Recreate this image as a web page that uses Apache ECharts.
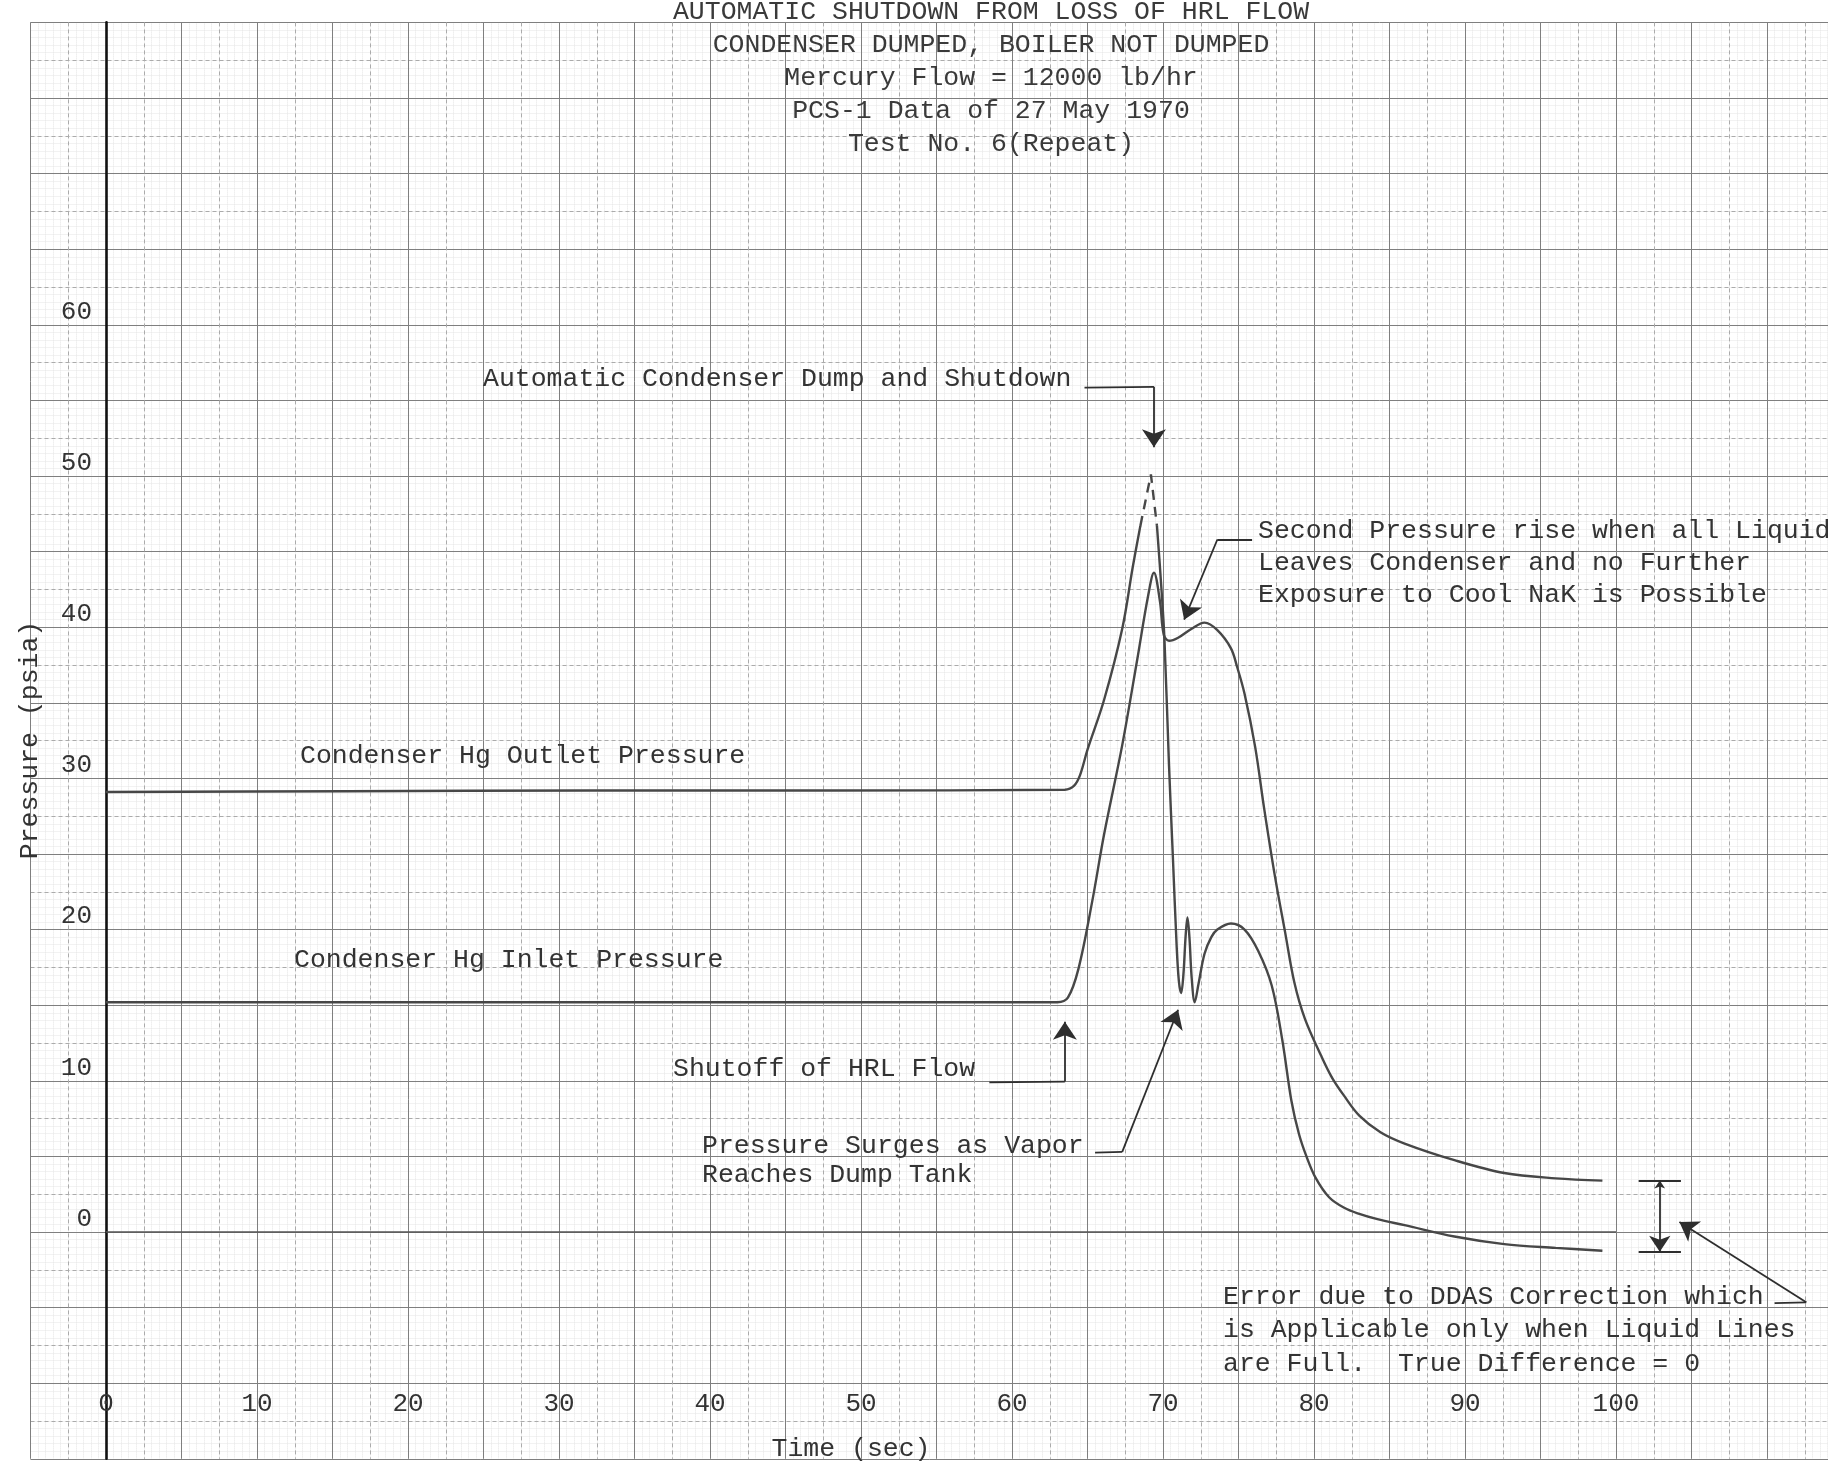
<!DOCTYPE html>
<html>
<head>
<meta charset="utf-8">
<script src="https://cdn.jsdelivr.net/npm/echarts@6/dist/echarts.min.js"></script>
<style>
html,body{margin:0;padding:0;background:#ffffff;}
#chart{width:1828px;height:1469px;}
</style>
</head>
<body>
<div id="chart"></div>
<script>
// ---------------- DATA ----------------
const xTickLabels = [0, 10, 20, 30, 40, 50, 60, 70, 80, 90, 100];
const yTickLabels = [0, 10, 20, 30, 40, 50, 60];

const titleLines = [
  'AUTOMATIC SHUTDOWN FROM LOSS OF HRL FLOW',
  'CONDENSER DUMPED, BOILER NOT DUMPED',
  'Mercury Flow = 12000 lb/hr',
  'PCS-1 Data of 27 May 1970',
  'Test No. 6(Repeat)'
];

// Condenser Hg Outlet Pressure (psia) vs time (sec)
const outletRise = [
  [0, 29.1], [16, 29.15], [32, 29.2], [48, 29.2], [63.5, 29.25], [64.1, 29.5],
  [64.5, 30.2], [65.0, 31.9], [66.1, 35.2], [67.3, 39.9], [68.0, 44.0], [68.5, 46.7]
];
const outletPeakDashed = [[68.5, 46.7], [69.2, 50.1], [69.6, 46.7]];
const outletFall = [
  [69.6, 46.7], [69.9, 42.5], [70.1, 39.1], [70.4, 30.8], [70.65, 24.9], [70.9, 19.0],
  [71.05, 16.6], [71.2, 15.8], [71.35, 17.0], [71.5, 19.6], [71.62, 20.8], [71.75, 19.5],
  [71.9, 16.8], [72.1, 15.2], [72.35, 16.4], [72.75, 18.4], [73.2, 19.5], [73.6, 20.0],
  [74.5, 20.4], [75.4, 20.0], [76.3, 18.6], [77.2, 16.3], [77.9, 12.7], [78.5, 8.7],
  [79.0, 6.5], [79.5, 5.0], [80.1, 3.6], [81.0, 2.3], [82.0, 1.6], [83.0, 1.2],
  [84.2, 0.85], [86.0, 0.45], [89.3, -0.3], [92.6, -0.8], [96.0, -1.05], [99.1, -1.24]
];

// Condenser Hg Inlet Pressure (psia) vs time (sec)
const inletPressure = [
  [0, 15.2], [16, 15.2], [32, 15.2], [48, 15.2], [63.0, 15.2], [63.7, 15.5], [64.4, 17.4],
  [65.3, 21.8], [66.1, 26.3], [67.3, 32.2], [68.3, 37.9], [69.0, 42.0], [69.4, 43.6],
  [69.8, 41.7], [70.05, 39.5], [70.4, 39.1], [71.0, 39.3], [71.9, 39.9], [72.75, 40.3],
  [73.6, 39.8], [74.5, 38.6], [74.9, 37.4], [75.4, 35.6], [76.1, 32.1], [76.7, 28.0],
  [77.4, 23.6], [78.1, 19.75], [78.7, 16.5], [79.4, 14.1], [80.5, 11.6], [81.2, 10.2],
  [82.0, 9.0], [83.0, 7.7], [84.4, 6.6], [86.0, 5.85], [89.3, 4.75], [92.6, 3.9],
  [96.0, 3.55], [99.1, 3.4]
];

const zeroLine = [[0, 0], [100, 0]];

// annotation leader lines (data coordinates), last segment carries the arrow
const dumpLeader = [[64.8, 55.85], [69.4, 55.9], [69.4, 51.9]];
const secondRiseLeader = [[75.9, 45.8], [73.6, 45.8], [71.4, 40.5]];
const shutoffLeader = [[58.5, 9.9], [63.5, 9.95], [63.5, 13.9]];
const surgeLeader = [[65.5, 5.25], [67.3, 5.3], [71.0, 14.7]];
const errorLeader = [[110.5, -4.7], [112.6, -4.65], [104.2, 0.66]];
const errorBracketTicks = [
  [[101.5, 3.4], [104.3, 3.4]],
  [[101.5, -1.3], [104.3, -1.3]]
];
const errorBracketSpan = [[102.9, 3.4], [102.9, -1.3]];

// ---------------- LAYOUT / STYLE ----------------
const FONT = '"Liberation Mono", "DejaVu Sans Mono", monospace';
const TEXT = '#333333';
const CURVE = '#474747';
const X_MIN = -5, X_MAX = 115, Y_MIN = -15, Y_MAX = 80;
const PX_X0 = 106, PX_PER_X = 15.1;
const PX_Y0 = 1232, PX_PER_Y = 15.12;
const W = 1828, H = 1469;
const gridLeft = PX_X0 + X_MIN * PX_PER_X;
const gridRight = W - (PX_X0 + X_MAX * PX_PER_X);
const gridTop = PX_Y0 - Y_MAX * PX_PER_Y;
const gridBottom = H - (PX_Y0 - Y_MIN * PX_PER_Y);
const yAxisOffset = -(PX_X0 - gridLeft);

function plainSegments(path) {
  const segs = [];
  for (let i = 0; i < path.length - 2; i++) segs.push({ coords: [path[i], path[i + 1]] });
  return segs;
}
function arrowSegment(path) {
  return { coords: [path[path.length - 2], path[path.length - 1]] };
}
const leaders = [dumpLeader, secondRiseLeader, shutoffLeader, surgeLeader, errorLeader];
let plainData = [];
leaders.forEach(p => { plainData = plainData.concat(plainSegments(p)); });
errorBracketTicks.forEach(t => plainData.push({ coords: t }));
const arrowData = leaders.map(arrowSegment);

const mainSplit = { show: true, lineStyle: { color: '#7f7f7f', width: 1 } };
const halfSplit = { show: true, lineStyle: { color: '#ababab', width: 1, type: [4, 3] } };
const fineSplit = { show: true, lineStyle: { color: '#e4e4e4', width: 1, type: 'dotted' } };

function curve(name, data, dashed, smooth) {
  return {
    name: name, type: 'line', data: data, xAxisIndex: 0, yAxisIndex: 0,
    showSymbol: false, symbol: 'none', smooth: smooth, z: 5,
    lineStyle: { color: CURVE, width: 2.4, type: dashed ? [10, 7] : 'solid' },
    emphasis: { disabled: true }, silent: true
  };
}

function txt(text, x, y, lineHeight) {
  return {
    type: 'text', x: x, y: y, silent: true, z: 10,
    style: {
      text: text, fill: TEXT, fontFamily: FONT, fontSize: 26.5,
      lineHeight: lineHeight, align: 'left', verticalAlign: 'top'
    }
  };
}

const chart = echarts.init(document.getElementById('chart'), null, { renderer: 'canvas' });
chart.setOption({
  animation: false,
  backgroundColor: '#ffffff',
  title: {
    text: titleLines.join('\n'),
    left: 991, top: -4.5, padding: 0, textAlign: 'center',
    textStyle: { fontFamily: FONT, fontSize: 26.5, fontWeight: 'normal', color: '#3a3a3a', lineHeight: 33 }
  },
  grid: {
    left: gridLeft, right: gridRight, top: gridTop, bottom: gridBottom,
    containLabel: false, outerBoundsMode: 'none', show: false
  },
  xAxis: [
    {
      type: 'value', min: X_MIN, max: X_MAX, interval: 5, position: 'bottom', z: 2,
      axisLine: { show: false, onZero: false }, axisTick: { show: false },
      axisLabel: {
        inside: true, margin: 42, color: TEXT, fontFamily: FONT, fontSize: 26,
        formatter: v => (xTickLabels.indexOf(v) >= 0 ? String(v) : '')
      },
      splitLine: mainSplit,
      minorTick: { show: false, splitNumber: 2 },
      minorSplitLine: halfSplit
    },
    {
      type: 'value', min: X_MIN, max: X_MAX, interval: 0.5, position: 'top', z: 1,
      axisLine: { show: false, onZero: false }, axisTick: { show: false },
      axisLabel: { show: false }, splitLine: fineSplit
    }
  ],
  yAxis: [
    {
      type: 'value', min: Y_MIN, max: Y_MAX, interval: 5, z: 2, position: 'left',
      offset: yAxisOffset,
      axisLine: { show: true, onZero: false, lineStyle: { color: '#111111', width: 2.6 } },
      axisTick: { show: false },
      axisLabel: {
        margin: 14, verticalAlign: 'bottom', color: TEXT, fontFamily: FONT, fontSize: 26,
        formatter: v => (yTickLabels.indexOf(v) >= 0 ? String(v) : '')
      },
      splitLine: mainSplit,
      minorTick: { show: false, splitNumber: 2 },
      minorSplitLine: halfSplit
    },
    {
      type: 'value', min: Y_MIN, max: Y_MAX, interval: 0.5, position: 'right', z: 1,
      axisLine: { show: false, onZero: false }, axisTick: { show: false },
      axisLabel: { show: false }, splitLine: fineSplit
    }
  ],
  series: [
    {
      name: 'Zero line', type: 'line', data: zeroLine, xAxisIndex: 0, yAxisIndex: 0,
      showSymbol: false, symbol: 'none', z: 4, silent: true,
      lineStyle: { color: '#555555', width: 1.6 }
    },
    curve('Condenser Hg Outlet Pressure', outletRise, false, 0.35),
    curve('Condenser Hg Outlet Pressure (extrapolated)', outletPeakDashed, true, false),
    curve('Condenser Hg Outlet Pressure ', outletFall, false, 0.35),
    curve('Condenser Hg Inlet Pressure', inletPressure, false, 0.35),
    {
      name: 'leaders', type: 'lines', coordinateSystem: 'cartesian2d', xAxisIndex: 0, yAxisIndex: 0,
      data: plainData, symbol: ['none', 'none'], z: 6, silent: true,
      lineStyle: { color: '#2e2e2e', width: 1.8, opacity: 1, curveness: 0 }
    },
    {
      name: 'leader arrows', type: 'lines', coordinateSystem: 'cartesian2d', xAxisIndex: 0, yAxisIndex: 0,
      data: arrowData, symbol: ['none', 'arrow'], symbolSize: [9, 18], z: 6, silent: true,
      lineStyle: { color: '#2e2e2e', width: 1.8, opacity: 1, curveness: 0 }
    },
    {
      name: 'error bracket', type: 'lines', coordinateSystem: 'cartesian2d', xAxisIndex: 0, yAxisIndex: 0,
      data: [{ coords: errorBracketSpan }], symbol: ['arrow', 'arrow'], symbolSize: [8, 16], z: 6, silent: true,
      lineStyle: { color: '#2e2e2e', width: 1.8, opacity: 1, curveness: 0 }
    }
  ],
  graphic: {
    elements: [
      txt('Automatic Condenser Dump and Shutdown', 483, 379 - 13, 26),
      txt('Second Pressure rise when all Liquid\nLeaves Condenser and no Further\nExposure to Cool NaK is Possible', 1258, 515, 32),
      txt('Condenser Hg Outlet Pressure', 300, 756 - 13, 26),
      txt('Condenser Hg Inlet Pressure', 294, 960 - 13, 26),
      txt('Shutoff of HRL Flow', 673, 1069 - 13, 26),
      txt('Pressure Surges as Vapor\nReaches Dump Tank', 702, 1131.5, 29),
      txt('Error due to DDAS Correction which\nis Applicable only when Liquid Lines\nare Full.  True Difference = 0', 1223, 1280, 33.5),
      {
        type: 'text', x: 851, y: 1449, silent: true, z: 10,
        style: { text: 'Time (sec)', fill: TEXT, fontFamily: FONT, fontSize: 26.5, align: 'center', verticalAlign: 'middle' }
      },
      {
        type: 'text', x: 30, y: 740, rotation: Math.PI / 2, silent: true, z: 10,
        style: { text: 'Pressure (psia)', fill: TEXT, fontFamily: FONT, fontSize: 26.5, align: 'center', verticalAlign: 'middle' }
      }
    ]
  }
});
</script>
</body>
</html>
